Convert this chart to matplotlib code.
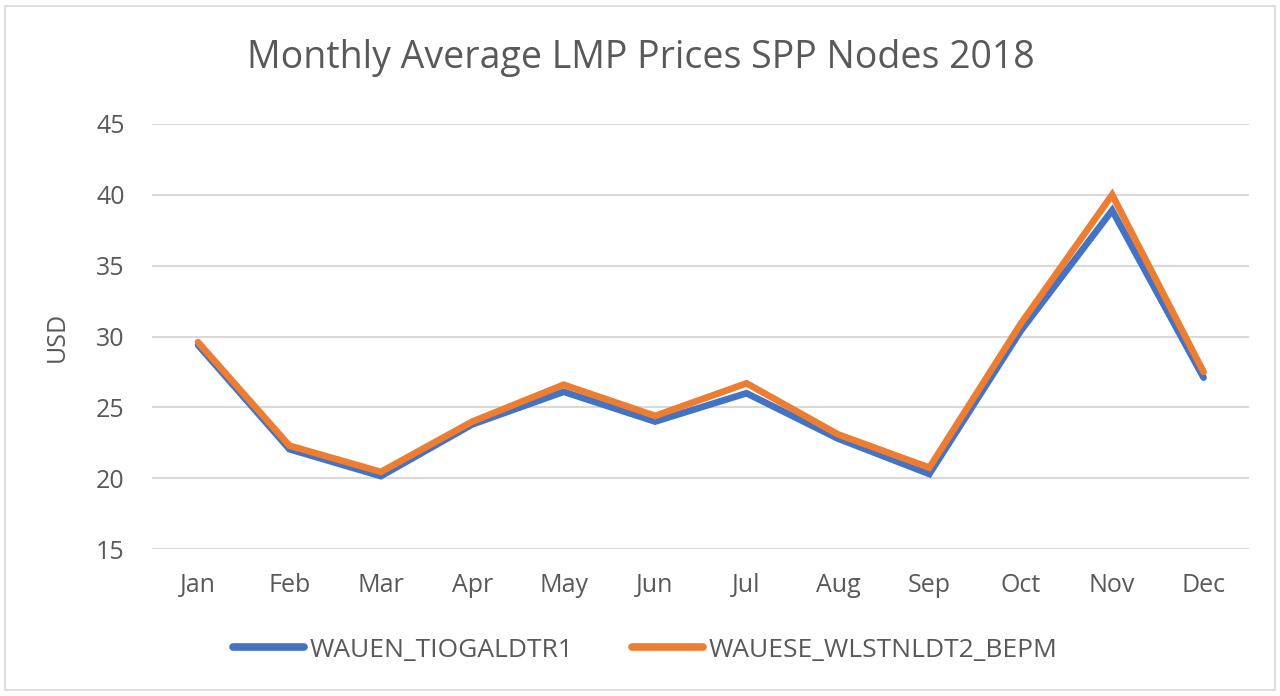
from matplotlib import pyplot as plt
from matplotlib.patches import Rectangle

months = ['Jan', 'Feb', 'Mar', 'Apr', 'May', 'Jun', 'Jul', 'Aug', 'Sep', 'Oct', 'Nov', 'Dec']
tiogaldtr1 = [29.4, 22.05, 20.15, 23.8, 26.1, 24.0, 26.0, 22.8, 20.3, 30.4, 38.9, 27.1]
wlstnldt2 = [29.6, 22.3, 20.45, 24.0, 26.6, 24.4, 26.7, 23.1, 20.75, 30.9, 40.0, 27.5]
series_names = ['WAUEN_TIOGALDTR1', 'WAUESE_WLSTNLDT2_BEPM']

txt = '#595959'
plt.rcParams['font.family'] = ['Open Sans', 'DejaVu Sans']

fig = plt.figure(figsize=(12.8, 6.96), dpi=100)
ax = fig.add_axes([0.119, 0.211, 0.857, 0.611])

x = list(range(len(months)))
ax.plot(x, tiogaldtr1, color='#4472C4', lw=4.8, solid_capstyle='round',
        solid_joinstyle='miter', label=series_names[0], zorder=3)
ax.plot(x, wlstnldt2, color='#ED7D31', lw=4.8, solid_capstyle='round',
        solid_joinstyle='miter', label=series_names[1], zorder=4)

ax.set_xlim(-0.5, 11.5)
ax.set_ylim(15, 45)
ax.set_yticks(range(15, 46, 5))
ax.set_xticks(x)
ax.set_xticklabels(months)
ax.yaxis.grid(True, color='#D9D9D9', lw=1.5)
ax.set_axisbelow(True)
for s in ax.spines.values():
    s.set_visible(False)
ax.tick_params(length=0, labelsize=18, colors=txt)
ax.tick_params(axis='x', pad=17)
ax.tick_params(axis='y', pad=20)
ax.set_ylabel('USD', fontsize=18, color=txt)
ax.yaxis.set_label_coords(-0.075, 0.5)

fig.text(0.501, 0.917, 'Monthly Average LMP Prices SPP Nodes 2018', ha='center', va='center',
         fontsize=27, color=txt)

leg = fig.legend(loc='center', bbox_to_anchor=(0.504, 0.066), ncol=2, frameon=False,
                 fontsize=19, handlelength=2.7, columnspacing=2.2, handletextpad=0.2)
for t in leg.get_texts():
    t.set_color(txt)
for h in leg.get_lines():
    h.set_linewidth(5.5)

fig.patches.append(Rectangle((0.004, 0.008), 0.992, 0.984, transform=fig.transFigure,
                             fill=False, edgecolor='#D9D9D9', lw=1.2))

fig.savefig('out.png', dpi=100)
